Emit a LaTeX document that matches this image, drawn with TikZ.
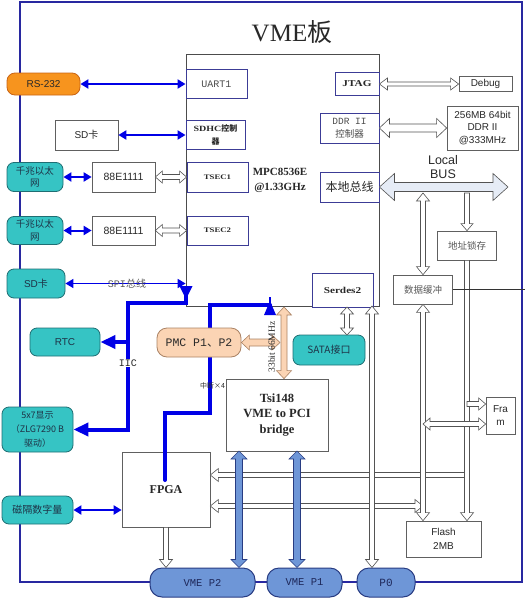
\documentclass[tikz,border=0pt]{standalone}
\usepackage{fontspec}
\setmainfont{Liberation Serif}
\setsansfont{Liberation Sans}
\setmonofont{Liberation Mono}
\newfontfamily\cjk{Noto Sans CJK SC}
\newfontfamily\wser[FakeStretch=1.25]{Liberation Serif}
\usetikzlibrary{calc,arrows.meta}
\definecolor{teal1}{RGB}{54,196,196}
\definecolor{tealbd}{RGB}{31,110,115}
\definecolor{tealtxt}{RGB}{30,50,70}
\definecolor{orng}{RGB}{247,148,30}
\definecolor{orngbd}{RGB}{200,100,20}
\definecolor{peach}{RGB}{251,212,180}
\definecolor{peachbd}{RGB}{170,130,100}
\definecolor{vmeblue}{RGB}{110,150,215}
\definecolor{vmebd}{RGB}{40,60,130}
\definecolor{vmetxt}{RGB}{30,40,90}
\definecolor{bblue}{RGB}{0,0,230}
\definecolor{navy}{RGB}{40,40,160}
\definecolor{inbd}{RGB}{60,60,150}
\definecolor{lbfill}{RGB}{230,236,246}
\definecolor{txt}{RGB}{40,40,40}
\newcommand\fsz[2]{\fontsize{#1}{#2}\selectfont}
% double-headed block arrow: style, A, B, shaft half width, head half width, head length
\newcommand\blockdbl[6]{%
  \path[#1] (#2) -- ($(#2)!#6!(#3)!#5!90:(#3)$) -- ($(#2)!#6!(#3)!#4!90:(#3)$)
    -- ($(#3)!#6!(#2)!#4!-90:(#2)$) -- ($(#3)!#6!(#2)!#5!-90:(#2)$) -- (#3)
    -- ($(#3)!#6!(#2)!#5!90:(#2)$) -- ($(#3)!#6!(#2)!#4!90:(#2)$)
    -- ($(#2)!#6!(#3)!#4!-90:(#3)$) -- ($(#2)!#6!(#3)!#5!-90:(#3)$) -- cycle;}
% single-headed block arrow (tip at B)
\newcommand\blocksgl[6]{%
  \path[#1] ($(#2)!#4!90:(#3)$) -- ($(#3)!#6!(#2)!#4!-90:(#2)$) -- ($(#3)!#6!(#2)!#5!-90:(#2)$)
    -- (#3) -- ($(#3)!#6!(#2)!#5!90:(#2)$) -- ($(#3)!#6!(#2)!#4!90:(#2)$)
    -- ($(#2)!#4!-90:(#3)$) -- cycle;}
\begin{document}
\begin{tikzpicture}[x=1pt,y=-1pt,
 base/.style={inner sep=0pt, align=center, text=txt},
 plain/.style={base, draw=gray!75!black, fill=white, line width=0.7pt},
 inb/.style={base, draw=inbd, fill=white, line width=0.9pt},
 tealb/.style={base, draw=tealbd, fill=teal1, rounded corners=7pt, line width=0.8pt, text=tealtxt},
 orb/.style={base, draw=orngbd, fill=orng, rounded corners=8pt, line width=0.8pt},
 peachb/.style={base, draw=peachbd, fill=peach, rounded corners=10pt, line width=0.8pt},
 vmeb/.style={base, draw=vmebd, fill=vmeblue, rounded corners=12pt, line width=1pt, text=vmetxt},
 hol/.style={draw=gray!65!black, fill=white, line width=0.6pt},
 lbar/.style={draw=gray!65!black, fill=lbfill, line width=0.6pt},
 orar/.style={draw=peachbd, fill=peach, line width=0.6pt},
 bluar/.style={draw=vmebd, fill=vmeblue, line width=0.6pt},
 thinb/.style={draw=bblue, line width=2pt, {Triangle[length=8pt,width=9pt]}-{Triangle[length=8pt,width=9pt]}},
 ibus/.style={draw=bblue, line width=4pt},
 ibtip/.style={-{Triangle[length=15pt,width=13pt]}},
 border/.style={draw=navy, line width=1.6pt},
 sz/.style 2 args={minimum width=#1pt, minimum height=#2pt},
]
\useasboundingbox (0,0) rectangle (526,600);
\draw[border] (20,2) rectangle (522,582);

\node[font=\fsz{25}{28}, text=txt] (title) at (292,32) {VME{\cjk 板}};

% processor
\node[plain, sz={193}{252}, draw=gray!60!black] (mpc) at (282.5,180) {};
\node[font=\bfseries\fsz{11}{15}, align=center, text=txt] (mpctxt) at (280,180) {MPC8536E\\@1.33GHz};
\node[inb, sz={61}{29}, font=\ttfamily\fsz{10}{12}, text=black!70] (uart) at (216.5,84) {UART1};
\node[inb, sz={59}{29}, font=\wser\bfseries\fsz{8}{13}] (sdhc) at (215.5,135) {SDHC{\cjk\bfseries 控制}\\{\cjk\bfseries 器}};
\node[inb, sz={61}{30}, font=\wser\bfseries\fsz{7}{9}] (tsec1) at (217.5,177) {TSEC1};
\node[inb, sz={61}{29}, font=\wser\bfseries\fsz{7}{9}] (tsec2) at (217.5,230.5) {TSEC2};
\node[inb, sz={44}{23}, font=\wser\bfseries\fsz{9}{11}] (jtag) at (357,84) {JTAG};
\node[inb, sz={59}{30}, font=\fsz{9.5}{13}, text=black!70] (ddrc) at (349.5,128) {{\ttfamily DDR II}\\{\cjk 控制器}};
\node[inb, sz={59}{30}, font=\cjk\fsz{12}{14}] (lbus) at (349.5,187) {本地总线};
\node[inb, sz={61}{34}, font=\wser\bfseries\fsz{9}{11}] (serdes) at (342.5,290) {Serdes2};

% right side
\node[plain, sz={53}{15}, font=\sffamily\fsz{10}{12}] (debug) at (485.5,84) {Debug};
\node[plain, sz={71}{44}, font=\sffamily\fsz{10}{12.5}] (ddrm) at (482.5,128) {256MB 64bit\\DDR II\\@333MHz};
\node[font=\sffamily\fsz{12.5}{14}, align=center, text=txt] (lbl) at (443,167) {Local\\BUS};
\node[plain, sz={59}{29}, font=\cjk\fsz{9.5}{12}, text=black!65] (addr) at (467,245.5) {地址锁存};
\node[plain, sz={59}{29}, font=\cjk\fsz{9.5}{12}, text=black!65] (dbuf) at (423,289.5) {数据缓冲};
\node[plain, sz={29}{37}, font=\sffamily\fsz{10}{13}] (fram) at (500.5,415.5) {Fra\\m};
\node[plain, sz={75}{36}, font=\sffamily\fsz{10}{14}] (flash) at (443.5,539) {Flash\\2MB};

% middle
\node[plain, sz={102}{72}, font=\bfseries\fsz{12.5}{15.5}] (tsi) at (277,415) {Tsi148\\VME to PCI\\bridge};
\node[plain, sz={88}{75}, font=\bfseries\fsz{12}{14}] (fpga) at (166,489.5) {FPGA};
\node[tealb, sz={72}{30}, font=\cjk\fsz{10}{12}] (sata) at (329,350) {SATA接口};

% left side
\node[orb, sz={73}{22}, font=\sffamily\fsz{10}{12}] (rs232) at (43.5,84) {RS-232};
\node[plain, sz={63}{30}, font=\sffamily\fsz{10}{12}] (sdtop) at (86.5,135) {SD{\cjk 卡}};
\node[tealb, sz={56}{29}, font=\cjk\fsz{9.5}{12.5}] (eth1) at (35,177) {千兆以太\\网};
\node[plain, sz={63}{30}, font=\sffamily\fsz{10.5}{12}] (phy1) at (123.5,177) {88E1111};
\node[tealb, sz={56}{28}, font=\cjk\fsz{9.5}{12.5}] (eth2) at (35,230.5) {千兆以太\\网};
\node[plain, sz={63}{29}, font=\sffamily\fsz{10.5}{12}] (phy2) at (123.5,230.5) {88E1111};
\node[tealb, sz={58}{29}, font=\sffamily\fsz{10}{12}] (sd2) at (36,283.5) {SD{\cjk 卡}};
\node[tealb, sz={70}{28}, font=\sffamily\fsz{10}{12}] (rtc) at (65,342) {RTC};
\node[tealb, sz={71}{45}, font=\cjk\fsz{9}{14}] (disp) at (37.5,429.5) {5x7显示\\（ZLG7290 B\\驱动）};
\node[tealb, sz={71}{28}, font=\cjk\fsz{10}{12}] (mag) at (37.5,510) {磁隔数字量};

% connectors (bottom)
\node[vmeb, sz={105}{29}, font=\ttfamily\fsz{10.5}{12}] (vmep2) at (202.5,582.5) {VME P2};
\node[vmeb, sz={75}{29}, font=\ttfamily\fsz{10.5}{12}] (vmep1) at (304.5,582.5) {VME P1};
\node[vmeb, sz={58}{29}, font=\ttfamily\fsz{11}{12}] (p0) at (386,582.5) {P0};

% coordinates for bus arrows
\coordinate (dtop) at (423,193);
\coordinate (atop) at (467,193);
\coordinate (fd) at (dbuf.south |- flash.north);
\coordinate (fa) at (addr.south |- flash.north);
\coordinate (fa1) at (467,404);
\coordinate (fa2) at (fram.west |- fa1);
\coordinate (fd1) at (423,424);
\coordinate (fd2) at (fram.west |- fd1);
\coordinate (fpa1) at (467,475);
\coordinate (fpa2) at (fpga.east |- fpa1);
\coordinate (fpd2) at (423,506);
\coordinate (fpd1) at (fpga.east |- fpd2);
\coordinate (lb2) at (508,187);
\coordinate (mp1) at (372,306);
\coordinate (mp2) at (p0.north -| mp1);
\coordinate (ss1) at (347,307);
\coordinate (ss2) at (347,335);
\coordinate (fp2) at (fpga.south |- vmep2.north);
\coordinate (t2a) at (239,451);
\coordinate (t2b) at (vmep2.north -| t2a);
\coordinate (t1a) at (297,451);
\coordinate (t1b) at (vmep1.north -| t1a);
\coordinate (pb1) at (284,307);
\coordinate (pb2) at (tsi.north -| pb1);
\coordinate (pm2) at (280,342.5);
\coordinate (dbx) at (525,289.5);

% hollow bus arrows
\blocksgl{hol}{fpa1}{fpa2}{2.5pt}{6.5pt}{8pt}
\blockdbl{hol}{fpd1}{fpd2}{2.5pt}{6.5pt}{8pt}
\blocksgl{hol}{atop}{addr.north}{2.5pt}{6pt}{7pt}
\blockdbl{hol}{dtop}{dbuf.north}{2.5pt}{6.5pt}{8pt}
\blocksgl{hol}{addr.south}{fa}{2.5pt}{6.5pt}{8pt}
\blockdbl{hol}{dbuf.south}{fd}{2.5pt}{6.5pt}{8pt}
\blocksgl{hol}{fa1}{fa2}{2.5pt}{6pt}{7pt}
\blockdbl{hol}{fd1}{fd2}{2.5pt}{6pt}{7pt}
\blockdbl{hol}{mp1}{mp2}{2.5pt}{6.5pt}{8pt}
\blocksgl{hol}{fpga.south}{fp2}{2.5pt}{6.5pt}{8pt}
\blockdbl{bluar}{t2a}{t2b}{3.5pt}{8pt}{8pt}
\blockdbl{bluar}{t1a}{t1b}{3.5pt}{8pt}{8pt}
\blockdbl{hol}{ss1}{ss2}{2.5pt}{6.5pt}{7pt}
\blockdbl{hol}{jtag.east}{debug.west}{2pt}{6pt}{8pt}
\blockdbl{hol}{ddrc.east}{ddrm.west}{4pt}{9.5pt}{10pt}
\blockdbl{hol}{phy1.east}{tsec1.west}{2.5pt}{6pt}{7pt}
\blockdbl{hol}{phy2.east}{tsec2.west}{2.5pt}{6pt}{7pt}
\blockdbl{lbar}{lbus.east}{lb2}{4.5pt}{13.5pt}{15pt}
\draw[black!80, line width=0.6pt] (dbuf.east) -- (dbx);

% thin blue links
\draw[thinb] (rs232.east) -- (uart.west);
\draw[thinb] (sdtop.east) -- (sdhc.west);
\draw[thinb] (eth1.east) -- (phy1.west);
\draw[thinb] (eth2.east) -- (phy2.west);
\draw[thinb, line width=1.5pt] (sd2.east) -- (sd2.east -| mpc.west);
\draw[thinb] (mag.east) -- (mag.east -| fpga.west);
\node[font=\fsz{10}{12}, text=black!65] (spi) at (127,284) {{\ttfamily SPI}{\cjk 总线}};

% IIC bus
\coordinate (ibtop) at (186,293);
\coordinate (ib0) at (186,303);
\coordinate (iicx) at (128,363);
\draw[ibus, ibtip] (ibtop) -- (ib0) -| (iicx) |- (disp.east);
\draw[ibus, ibtip] (rtc.east -| iicx) -- (rtc.east);
\fill[bblue] (186,299) -- ++(-6.5,-13) -- ++(13,0) -- cycle;
\node[fill=white, inner sep=1pt, font=\ttfamily\fsz{10}{12}, text=txt] (iic) at (iicx) {IIC};

% interrupt lines
\coordinate (int0) at (270,305);
\coordinate (int1) at (165,480);
\draw[ibus, line cap=round] (int0) -- (210,305) -- (210,413) -- (165,413) -- (int1);
\draw[bblue, line width=1.2pt] (270,297) -- (270,303);
\fill[bblue] (270,301) -- ++(-6,14) -- ++(12,0) -- cycle;
\node[font=\cjk\fsz{7}{8}, text=txt] (intl) at (212.5,386) {中断×4};

% PMC and PCI bus
\node[peachb, sz={84}{29}, font=\ttfamily\fsz{11.5}{12}] (pmc) at (199,342.5) {PMC P1{\cjk 、}P2};
\blockdbl{orar}{pmc.east}{pm2}{3.5pt}{7.5pt}{8pt}
\blockdbl{orar}{pb1}{pb2}{3pt}{7.5pt}{8pt}
\node[rotate=90, font=\fsz{9.5}{11}, text=txt] (bw) at (271.5,347) {33bit 66MHz};
\end{tikzpicture}
\end{document}
